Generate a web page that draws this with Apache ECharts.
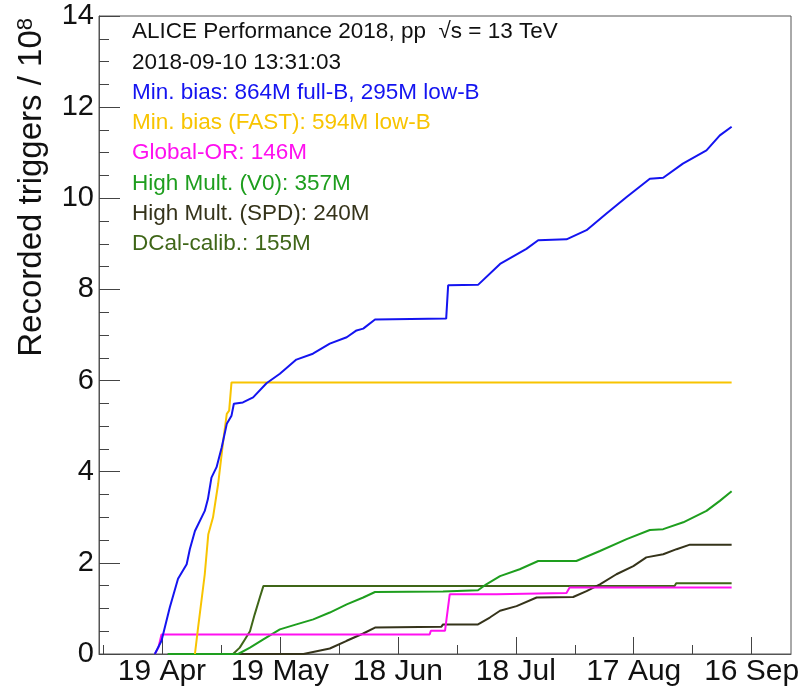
<!DOCTYPE html>
<html>
<head>
<meta charset="utf-8">
<script src="https://cdn.jsdelivr.net/npm/echarts@6/dist/echarts.min.js"></script>
<style>
  html, body { margin: 0; padding: 0; background: #fff; }
  #chart { width: 807px; height: 691px; }
</style>
</head>
<body>
<div id="chart"></div>
<script>
// x values are days counted from 19 Apr 2018, y values in units of 10^8 triggers
const dateTicks = [0, 30, 60, 90, 120, 150];
const dateLabels = ["19 Apr", "19 May", "18 Jun", "18 Jul", "17 Aug", "16 Sep"];
const halfMonthTicks = [-15, 15, 45, 75, 105, 135];

const minBiasDays = [-1.8, -0.1, 2, 4.1, 6.3, 7.1, 8.4, 10.9, 11.7, 12.6, 13.9, 15.2, 16.5, 17.7, 18.3, 20.6, 23.2, 26.6, 30, 34.2, 38.4, 42.7, 47, 49.5, 51.2, 54.2, 72.3, 72.8, 80.4, 86, 92.7, 95.7, 102.9, 108, 113, 118.2, 124.1, 127.5, 132.5, 138.5, 141.9, 144.9];
const minBiasValues = [0, 0.29, 1.02, 1.65, 1.97, 2.3, 2.7, 3.14, 3.4, 3.87, 4.1, 4.53, 5.05, 5.23, 5.49, 5.52, 5.63, 5.94, 6.15, 6.46, 6.59, 6.81, 6.95, 7.1, 7.14, 7.34, 7.36, 8.09, 8.1, 8.56, 8.89, 9.08, 9.1, 9.3, 9.66, 10.03, 10.43, 10.45, 10.76, 11.05, 11.38, 11.57];

const fastDays = [8.4, 9.2, 10.9, 11.8, 13, 14.3, 15.6, 16.5, 17.1, 17.7, 144.9];
const fastValues = [0, 0.58, 1.75, 2.63, 3.0, 3.73, 4.68, 5.27, 5.34, 5.96, 5.96];

const globalOrDays = [-1.8, -0.9, -0.1, 68.1, 68.4, 72, 73.2, 85.1, 85.4, 102.9, 103.7, 144.9];
const globalOrValues = [0, 0.14, 0.43, 0.43, 0.51, 0.51, 1.31, 1.31, 1.34, 1.34, 1.46, 1.46];

const hmV0Days = [1.5, 19.4, 22.4, 25.8, 30, 34.2, 38.5, 42.7, 47, 51.2, 54.2, 71.5, 72, 80.4, 82.5, 86, 91, 95.7, 105.4, 111.4, 118.2, 124.1, 127.5, 132.6, 138.5, 141.9, 144.9];
const hmV0Values = [0, 0, 0.14, 0.32, 0.54, 0.65, 0.76, 0.91, 1.09, 1.24, 1.36, 1.37, 1.4, 1.4, 1.53, 1.71, 1.86, 2.04, 2.04, 2.26, 2.52, 2.72, 2.74, 2.89, 3.14, 3.36, 3.57];

const hmSpdDays = [1.5, 36, 42.7, 47, 51.2, 54.2, 71.1, 71.5, 80.4, 83.4, 86, 90.2, 95.3, 104.6, 108, 111.4, 115.6, 119.9, 123.2, 127.5, 130.9, 134.3, 144.9];
const hmSpdValues = [0, 0, 0.12, 0.29, 0.45, 0.58, 0.6, 0.65, 0.65, 0.8, 0.95, 1.05, 1.24, 1.25, 1.38, 1.53, 1.75, 1.93, 2.12, 2.19, 2.3, 2.4, 2.4];

const dcalDays = [18.1, 19.8, 21.1, 22.4, 23.6, 24.9, 25.8, 130.4, 130.8, 144.9];
const dcalValues = [0, 0.14, 0.32, 0.5, 0.87, 1.24, 1.49, 1.49, 1.55, 1.55];

const headerLines = ["ALICE Performance 2018, pp  \u221As = 13 TeV", "2018-09-10 13:31:03"];
const seriesNames = [
  "Min. bias: 864M full-B, 295M low-B",
  "Min. bias (FAST): 594M low-B",
  "Global-OR: 146M",
  "High Mult. (V0): 357M",
  "High Mult. (SPD): 240M",
  "DCal-calib.: 155M",
];
const seriesColors = ["#1414f0", "#f8c400", "#ff10f0", "#1e9e1e", "#35331a", "#3f6618"];
const seriesX = [minBiasDays, fastDays, globalOrDays, hmV0Days, hmSpdDays, dcalDays];
const seriesY = [minBiasValues, fastValues, globalOrValues, hmV0Values, hmSpdValues, dcalValues];

const FONT = "'Liberation Sans', Arial, Helvetica, sans-serif";

const chart = echarts.init(document.getElementById("chart"));

const zip = (xs, ys) => xs.map((x, i) => [x, ys[i]]);

const textLines = [];
headerLines.forEach((t) => textLines.push({ text: t, color: "#111" }));
seriesNames.forEach((t, i) => textLines.push({ text: t, color: seriesColors[i] }));

const option = {
  animation: false,
  backgroundColor: "#fff",
  grid: {
    left: 99,
    right: 16,
    top: 16,
    bottom: 37,
    show: true,
    borderColor: "#555",
    borderWidth: 1,
  },
  xAxis: [
    {
      type: "value",
      position: "bottom",
      min: -16,
      max: 160,
      axisLine: { show: true, onZero: false, lineStyle: { color: "#555", width: 1 } },
      axisTick: {
        show: true,
        inside: true,
        length: 17,
        customValues: dateTicks,
        lineStyle: { color: "#444" },
      },
      axisLabel: {
        customValues: dateTicks,
        formatter: (v) => dateLabels[dateTicks.indexOf(v)] || "",
        fontSize: 30,
        color: "#111",
        fontFamily: FONT,
        margin: 3,
      },
      splitLine: { show: false },
    },
    {
      type: "value",
      position: "bottom",
      min: -16,
      max: 160,
      axisLine: { show: false, onZero: false },
      axisTick: {
        show: true,
        inside: true,
        length: 9,
        customValues: halfMonthTicks,
        lineStyle: { color: "#444" },
      },
      axisLabel: { show: false },
      splitLine: { show: false },
    },
  ],
  yAxis: {
    type: "value",
    min: 0,
    max: 14,
    interval: 2,
    axisLine: { show: true, onZero: false, lineStyle: { color: "#555", width: 1 } },
    axisTick: { show: true, inside: true, length: 21, lineStyle: { color: "#444" } },
    minorTick: { show: true, splitNumber: 4, length: 10, lineStyle: { color: "#444" } },
    axisLabel: { fontSize: 29, color: "#111", fontFamily: FONT, margin: 5 },
    splitLine: { show: false },
  },
  graphic: [
    {
      type: "text",
      x: 32,
      y: 18,
      rotation: Math.PI / 2,
      style: {
        text: "{a|Recorded triggers / 10}{b|8}",
        textAlign: "right",
        textVerticalAlign: "middle",
        rich: {
          a: { fontSize: 33, fontFamily: FONT, fill: "#111", lineHeight: 35 },
          b: { fontSize: 22, fontFamily: FONT, fill: "#111", verticalAlign: "top", lineHeight: 35 },
        },
      },
    },
  ].concat(
    textLines.map((t, i) => ({
      type: "text",
      x: 132,
      y: 32 + i * 30.3,
      style: {
        text: t.text,
        fill: t.color,
        font: "22.5px " + FONT,
        textAlign: "left",
        textVerticalAlign: "middle",
      },
    }))
  ),
  series: seriesNames.map((name, i) => ({
    name: name,
    type: "line",
    xAxisIndex: 0,
    showSymbol: false,
    symbol: "none",
    lineStyle: { color: seriesColors[i], width: 2 },
    itemStyle: { color: seriesColors[i] },
    data: zip(seriesX[i], seriesY[i]),
    z: 2 + (seriesNames.length - i),
  })),
};

chart.setOption(option);
</script>
</body>
</html>
